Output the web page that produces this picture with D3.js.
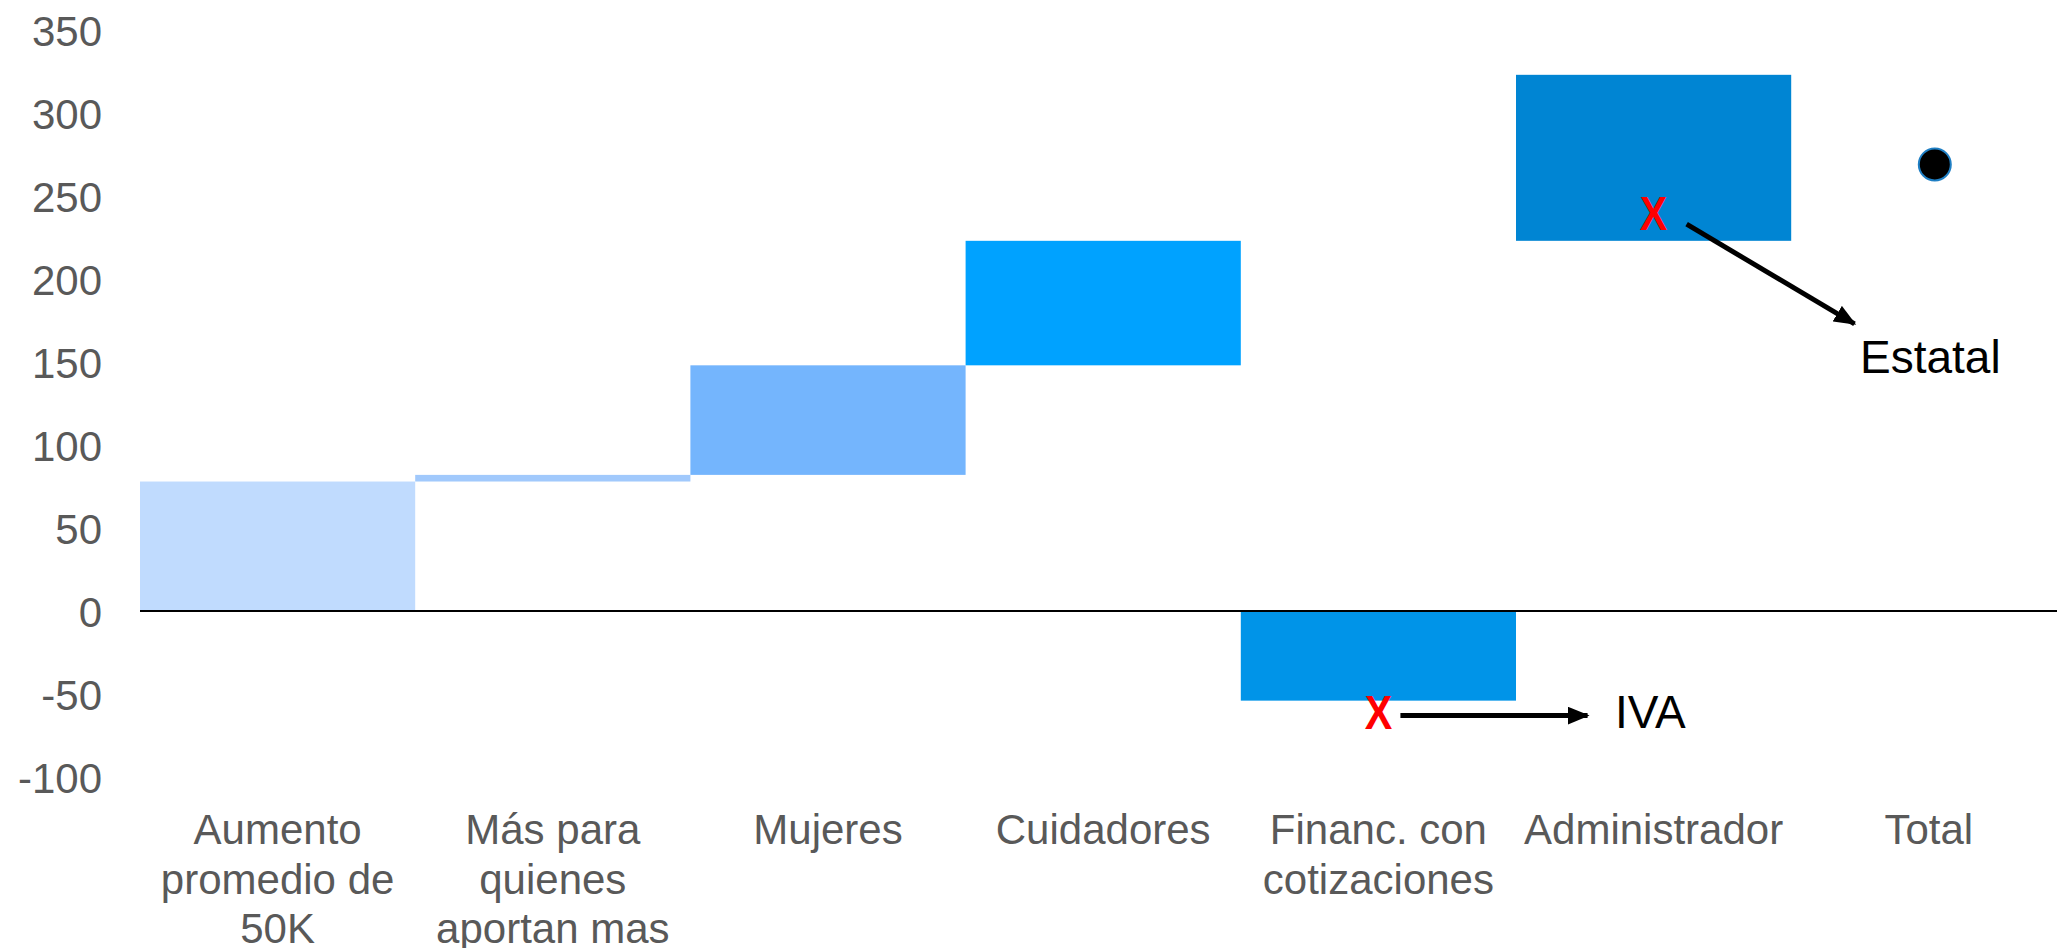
<!DOCTYPE html>
<html>
<head>
<meta charset="utf-8">
<script src="https://cdn.jsdelivr.net/npm/d3@7"></script>
<style>
  body { margin: 0; background: #fff; }
  svg { display: block; font-family: "Liberation Sans", Arial, sans-serif; }
</style>
</head>
<body>
<svg id="chart" width="2057" height="948"></svg>
<script>
// waterfall data
var categories = ["Aumento promedio de 50K", "Más para quienes aportan mas", "Mujeres", "Cuidadores", "Financ. con cotizaciones", "Administrador", "Total"];
var labelLines = [["Aumento", "promedio de", "50K"], ["Más para", "quienes", "aportan mas"], ["Mujeres"], ["Cuidadores"], ["Financ. con", "cotizaciones"], ["Administrador"], ["Total"]];
var barStart = [0, 78, 82, 148, 0, 223];
var barEnd = [78, 82, 148, 223, -54, 323];
var barColors = ["#c0dbfe", "#a1c9fc", "#74b5fd", "#00a2ff", "#0094e8", "#0085d3"];
var totalValue = 269;
var yTicks = [-100, -50, 0, 50, 100, 150, 200, 250, 300, 350];

// annotations: red X marks and the arrows to their labels
var marks = [
    {cat: "Financ. con cotizaciones", value: -61},
    {cat: "Administrador", value: 240}
];
var notes = [
    {text: "IVA", cat: "Financ. con cotizaciones", from: [0.58, -63], to: [1.26, -63], label: [1.36, -61]},
    {text: "Estatal", cat: "Administrador", from: [0.62, 233], to: [1.23, 173], label: [1.25, 153]}
];

var svg = d3.select("#chart");
var left = 140;

var x = d3.scaleBand().domain(categories).range([left, left + 7 * 275.2]).padding(0);
var y = d3.scaleLinear().domain([-100, 350]).range([777, 30]);
var bw = x.bandwidth();

// y axis, labels only (plain hyphen for negatives)
var yAxis = svg.append("g").attr("transform", "translate(" + left + ",0)")
    .call(d3.axisLeft(y).tickValues(yTicks).tickSize(0).tickPadding(38)
        .tickFormat(function(d){ return String(d); }));
yAxis.select(".domain").remove();
yAxis.selectAll("text").attr("font-size", 42).attr("fill", "#595959").attr("dy", "0.37em")
    .attr("font-family", "'Liberation Sans', Arial, sans-serif");

// bars
svg.selectAll("rect.bar").data(barStart).enter().append("rect")
    .attr("class", "bar")
    .attr("x", function(d, i){ return x(categories[i]); })
    .attr("width", bw)
    .attr("y", function(d, i){ return y(Math.max(d, barEnd[i])); })
    .attr("height", function(d, i){ return Math.abs(y(d) - y(barEnd[i])); })
    .attr("fill", function(d, i){ return barColors[i]; });

// zero line
svg.append("line").attr("x1", left).attr("x2", 2057)
    .attr("y1", y(0)).attr("y2", y(0))
    .attr("stroke", "#000").attr("stroke-width", 2);

// total point
svg.append("circle")
    .attr("cx", x("Total") + bw / 2 + 6).attr("cy", y(totalValue)).attr("r", 16)
    .attr("fill", "#000").attr("stroke", "#1f7fc4").attr("stroke-width", 2);

// category labels
var catText = svg.selectAll("text.cat").data(labelLines).enter().append("text")
    .attr("class", "cat")
    .attr("text-anchor", "middle")
    .attr("font-size", 42).attr("fill", "#595959")
    .attr("transform", function(d, i){ return "translate(" + (x(categories[i]) + bw / 2) + ",844)"; });
catText.selectAll("tspan").data(function(d){ return d; }).enter().append("tspan")
    .attr("x", 0).attr("y", function(d, i){ return i * 49.5; })
    .text(function(d){ return d; });

// arrows
svg.append("defs").append("marker")
    .attr("id", "head").attr("markerUnits", "userSpaceOnUse")
    .attr("markerWidth", 24).attr("markerHeight", 18)
    .attr("refX", 20).attr("refY", 9).attr("orient", "auto")
    .append("path").attr("d", "M0,0 L22,9 L0,18 Z").attr("fill", "#000");

notes.forEach(function(n){
    var x0 = x(n.cat) + n.from[0] * bw, x1 = x(n.cat) + n.to[0] * bw;
    svg.append("line")
        .attr("x1", x0).attr("y1", y(n.from[1]))
        .attr("x2", x1).attr("y2", y(n.to[1]))
        .attr("stroke", "#000").attr("stroke-width", 5)
        .attr("marker-end", "url(#head)");
    svg.append("text")
        .attr("x", x(n.cat) + n.label[0] * bw).attr("y", y(n.label[1]))
        .attr("dy", "0.35em").attr("font-size", 46).attr("fill", "#000")
        .text(n.text);
});

// red X marks
marks.forEach(function(m){
    var cx = x(m.cat) + bw / 2, cy = y(m.value);
    svg.append("text")
        .attr("transform", "translate(" + cx + "," + (cy + 17) + ") scale(0.86,1)")
        .attr("text-anchor", "middle")
        .attr("font-size", 48).attr("font-weight", "bold").attr("fill", "#ff0000")
        .text("X");
});
</script>
</body>
</html>
